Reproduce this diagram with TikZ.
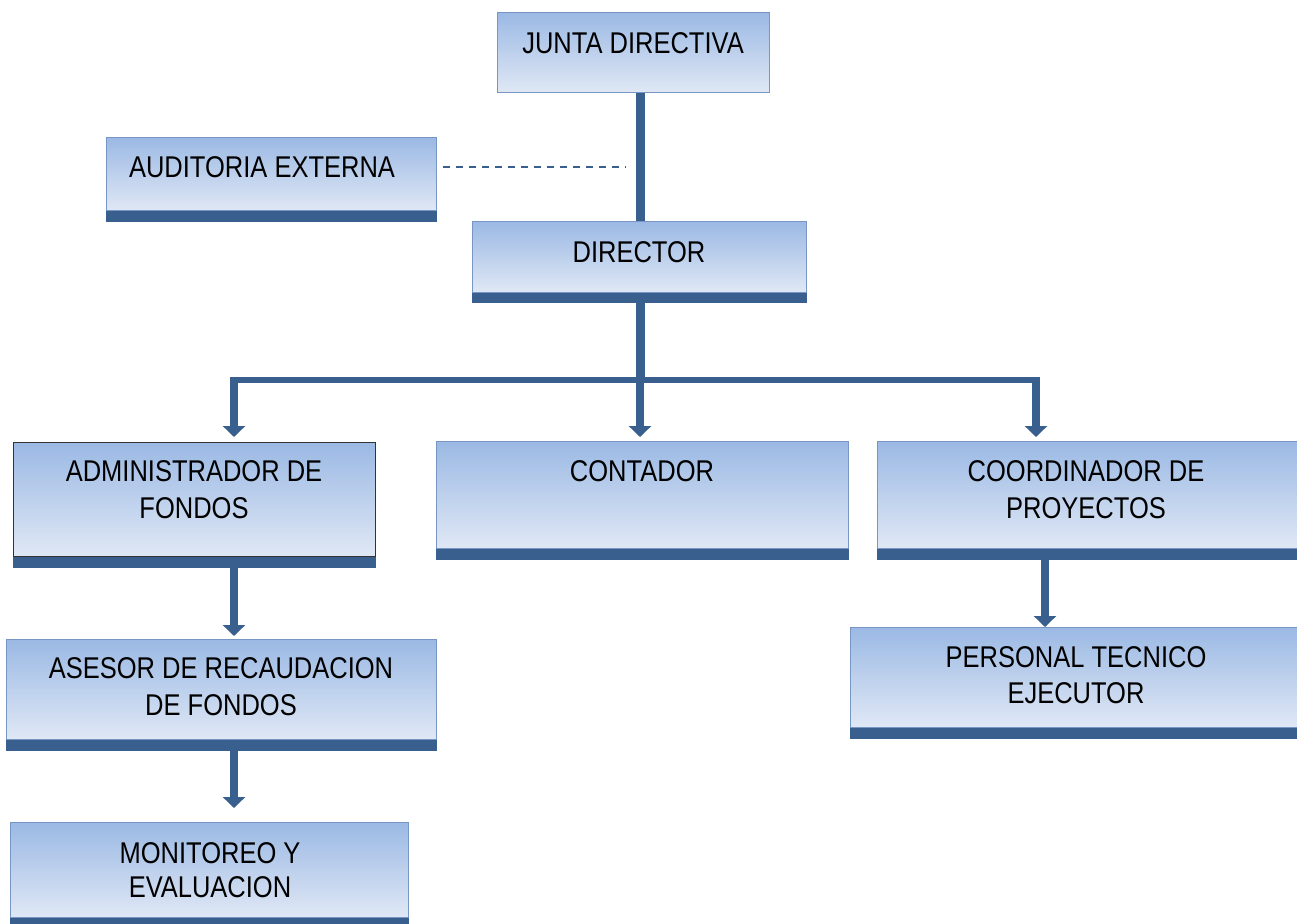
\documentclass[tikz,border=0pt]{standalone}
\usepackage{fontspec}
\setmainfont[FakeStretch=0.85]{Liberation Sans}
\usetikzlibrary{arrows.meta}
\definecolor{bandc}{HTML}{385F8E}
\definecolor{boxline}{HTML}{7896C3}
\definecolor{darkline}{HTML}{333333}
\definecolor{gtop}{HTML}{9BB9E4}
\definecolor{gbot}{HTML}{E0E8F5}
\begin{document}
\begin{tikzpicture}[x=1pt,y=-1pt,
  orgbox/.style={draw=boxline, line width=1.3pt, top color=gtop, bottom color=gbot, inner sep=0pt, anchor=north west},
  lbl/.style={font=\fontsize{30}{37}\selectfont, align=center, inner sep=0pt, text=black},
  conn/.style={draw=bandc, line width=9pt},
  bus/.style={draw=bandc, line width=6pt},
  arr/.style={draw=bandc, line width=8pt, -{Triangle[width=22pt,length=11pt]}},
  dashlink/.style={draw=bandc, line width=2pt, dash pattern=on 7pt off 6pt}]
\useasboundingbox (0,0) rectangle (1297,923);
\clip (0,0) rectangle (1297,923);
% boxes
\node[orgbox, minimum width=272pt, minimum height=80pt] (jd) at (497,12) {};
\node[orgbox, minimum width=330pt, minimum height=73pt] (aud) at (106,137) {};
\node[orgbox, minimum width=334pt, minimum height=71pt] (dir) at (472,221) {};
\node[orgbox, draw=darkline, minimum width=362pt, minimum height=114pt] (adm) at (13,442) {};
\node[orgbox, minimum width=412pt, minimum height=107pt] (cont) at (436,441) {};
\node[orgbox, minimum width=422pt, minimum height=107pt] (coord) at (877,441) {};
\node[orgbox, minimum width=430pt, minimum height=100pt] (ases) at (6,639) {};
\node[orgbox, minimum width=398pt, minimum height=95pt] (mon) at (10,822) {};
\node[orgbox, minimum width=449pt, minimum height=100pt] (pers) at (850,627) {};
% bands
\fill[bandc] (aud.south west) rectangle ([yshift=-11pt]aud.south east);
\fill[bandc] (dir.south west) rectangle ([yshift=-10pt]dir.south east);
\fill[bandc] (adm.south west) rectangle ([yshift=-11pt]adm.south east);
\fill[bandc] (cont.south west) rectangle ([yshift=-11pt]cont.south east);
\fill[bandc] (coord.south west) rectangle ([yshift=-11pt]coord.south east);
\fill[bandc] (ases.south west) rectangle ([yshift=-11pt]ases.south east);
\fill[bandc] (pers.south west) rectangle ([yshift=-11pt]pers.south east);
\fill[bandc] (mon.south west) rectangle ([yshift=-11pt]mon.south east);
% labels
\node[lbl] (jdt) at (633,43) {JUNTA DIRECTIVA};
\node[lbl] (audt) at (262,167) {AUDITORIA EXTERNA};
\node[lbl] (dirt) at (639,252) {DIRECTOR};
\node[lbl] (admt) at (194,489.5) {ADMINISTRADOR DE\\FONDOS};
\node[lbl] (contt) at (642,471) {CONTADOR};
\node[lbl] (coordt) at (1086,489.5) {COORDINADOR DE\\PROYECTOS};
\node[lbl] (asest) at (221,686.5) {ASESOR DE RECAUDACION\\DE FONDOS};
\node[lbl, font=\fontsize{30}{34}\selectfont] (mont) at (210,870) {MONITOREO Y\\EVALUACION};
\node[lbl, font=\fontsize{30}{36}\selectfont] (perst) at (1076,675) {PERSONAL TECNICO\\EJECUTOR};
% connectors
\coordinate (hub) at (640,380);
\coordinate (busl) at (234,380);
\coordinate (busr) at (1036,380);
\coordinate (cp) at (1045,600);
\coordinate (dashend) at (626,167);
\draw[conn] (jd.south -| hub) -- (dir.north -| hub);
\draw[conn] (dir.south -| hub) -- ([yshift=3pt]hub);
\draw[bus] ([xshift=-4pt]busl) -- ([xshift=4pt]busr);
\draw[arr, shorten >=5pt] ([yshift=3pt]busl) -- (busl |- adm.north);
\draw[arr, shorten >=4pt] ([yshift=3pt]hub) -- (hub |- cont.north);
\draw[arr, shorten >=4pt] ([yshift=3pt]busr) -- (busr |- coord.north);
\draw[arr, shorten >=3pt] (adm.south -| busl) -- (ases.north -| busl);
\draw[arr, shorten >=14pt] (ases.south -| busl) -- (mon.north -| busl);
\draw[arr] (coord.south -| cp) -- (pers.north -| cp);
\draw[dashlink, shorten <=6pt] (aud.east |- dashend) -- (dashend);
\end{tikzpicture}
\end{document}
